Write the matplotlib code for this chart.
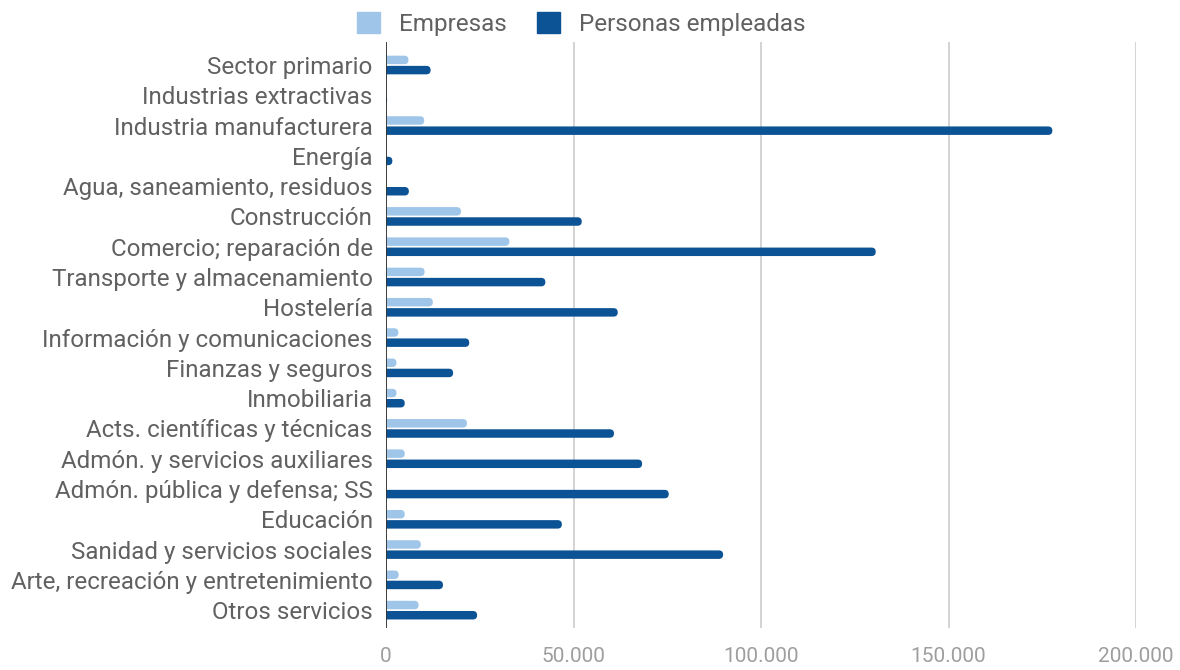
import matplotlib.pyplot as plt
from matplotlib.ticker import FuncFormatter
from matplotlib.patches import Patch, FancyBboxPatch

plt.rcParams['font.family'] = ['Roboto', 'DejaVu Sans']

# Empresas y personas empleadas por sector de actividad
sectores = [
    'Sector primario',
    'Industrias extractivas',
    'Industria manufacturera',
    'Energía',
    'Agua, saneamiento, residuos',
    'Construcción',
    'Comercio; reparación de',
    'Transporte y almacenamiento',
    'Hostelería',
    'Información y comunicaciones',
    'Finanzas y seguros',
    'Inmobiliaria',
    'Acts. científicas y técnicas',
    'Admón. y servicios auxiliares',
    'Admón. pública y defensa; SS',
    'Educación',
    'Sanidad y servicios sociales',
    'Arte, recreación y entretenimiento',
    'Otros servicios',
]
empresas = [6000, 40, 10200, 60, 150, 20000, 32900, 10300, 12500, 3300,
            2800, 2800, 21600, 5000, 100, 5000, 9300, 3400, 8700]
personas = [11900, 300, 177700, 1700, 6100, 52200, 130600, 42500, 61800, 22200,
            17900, 5000, 60800, 68300, 75400, 46900, 89900, 15200, 24300]
x_ticks = [0, 50000, 100000, 150000, 200000]

C_EMP = '#9fc5e8'
C_PER = '#0b5394'
TXT = '#616161'

W, H = 1180, 670
fig = plt.figure(figsize=(W / 100, H / 100), dpi=100)
ax = fig.add_axes([386 / W, 1 - 628 / H, 750 / W, 586 / H])

XMAX = 200000
YLIM = (18.59, -0.76)
ax.set_xlim(0, XMAX)
ax.set_ylim(*YLIM)

# data units per pixel, used to give the bars a round right end
ux = XMAX / 750
uy = (YLIM[0] - YLIM[1]) / 586
off, h = 0.168, 0.28
r = h / 2 / uy * ux          # end radius in x units


def rounded_bars(values, shift, color):
    for i, v in enumerate(values):
        # start left of the axis so only the right end shows rounded
        p = FancyBboxPatch((-2 * r, i + shift - h / 2), v + 2 * r, h,
                           boxstyle=f'round,pad=0,rounding_size={r}',
                           mutation_aspect=uy / ux, fc=color, ec='none',
                           zorder=3, clip_on=True)
        ax.add_patch(p)


rounded_bars(empresas, -off, C_EMP)
rounded_bars(personas, off, C_PER)

ax.set_xticks(x_ticks)
ax.xaxis.set_major_formatter(FuncFormatter(lambda v, _: f'{int(v):,}'.replace(',', '.')))
ax.set_yticks(range(len(sectores)))
ax.set_yticklabels(sectores)

ax.grid(axis='x', color='#cccccc', lw=1.2, zorder=0)
ax.axvline(0, color='#333333', lw=1.3, zorder=4)
for sp in ax.spines.values():
    sp.set_visible(False)
ax.tick_params(axis='y', length=0, pad=9.5, labelsize=17.4, labelcolor=TXT)
ax.tick_params(axis='x', length=0, pad=14, labelsize=15, labelcolor='#9e9e9e')

handles = [Patch(color=C_EMP, label='Empresas'),
           Patch(color=C_PER, label='Personas empleadas')]
fig.legend(handles=handles, loc='center', bbox_to_anchor=(581 / W, 1 - 24 / H), ncol=2,
           frameon=False, fontsize=17.5, labelcolor=TXT, handlelength=0.95,
           handleheight=0.95, handletextpad=0.78, columnspacing=1.23)

fig.savefig('out.png', dpi=100, facecolor='white')
